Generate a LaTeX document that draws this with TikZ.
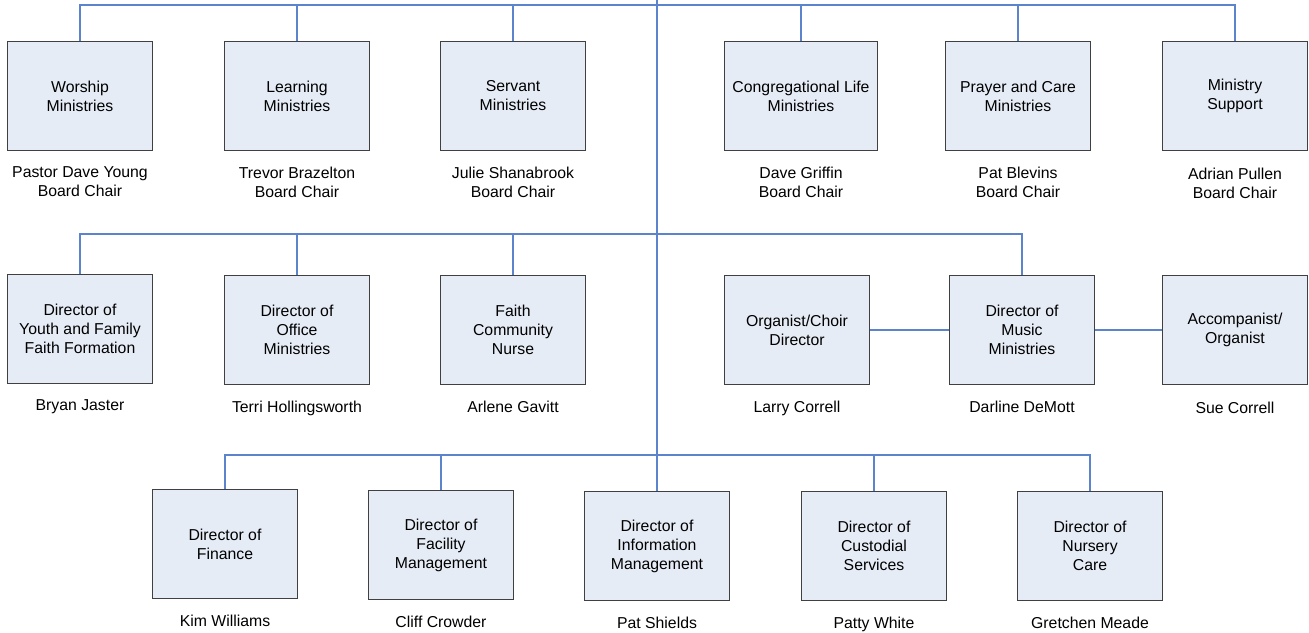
\documentclass[tikz,border=0pt]{standalone}
\usepackage{fontspec}
\setmainfont{Liberation Sans}
\usetikzlibrary{positioning}
\definecolor{boxfill}{RGB}{230,236,246}
\definecolor{boxline}{RGB}{64,64,64}
\definecolor{linkblue}{RGB}{92,132,204}

\begin{document}
\begin{tikzpicture}[x=1pt,y=-1pt]
\tikzstyle{every node}=[font=\fontsize{15.8}{19}\selectfont]
\tikzstyle{unit}=[
	draw=boxline,
	fill=boxfill,
	line width=1.2pt,
	minimum width=145pt,
	minimum height=109pt,
	inner sep=0pt,
	align=center ]
\tikzstyle{person}=[inner sep=0pt, align=center, node distance=15.5pt]
\tikzstyle{conn}=[draw=linkblue, line width=1.1pt]
\useasboundingbox (0,0) rectangle (1309,632);

% boards
\node[unit] (wm) at (80,96) {Worship\\Ministries};
\node[unit] (lm) at (297,96) {Learning\\Ministries};
\node[unit] (sm) at (513,96) {Servant\\Ministries};
\node[unit, minimum width=153pt] (cl) at (801,96) {Congregational Life\\Ministries};
\node[unit] (pc) at (1018,96) {Prayer and Care\\Ministries};
\node[unit] (ms) at (1235,96) {Ministry\\Support};
\node[person, below=of wm] (wmn) {Pastor Dave Young\\Board Chair};
\node[person, below=of lm] (lmn) {Trevor Brazelton\\Board Chair};
\node[person, below=of sm] (smn) {Julie Shanabrook\\Board Chair};
\node[person, below=of cl] (cln) {Dave Griffin\\Board Chair};
\node[person, below=of pc] (pcn) {Pat Blevins\\Board Chair};
\node[person, below=17pt of ms] (msn) {Adrian Pullen\\Board Chair};

% staff
\node[unit] (yf) at (80,329) {Director of\\Youth and Family\\Faith Formation};
\node[unit] (om) at (297,330) {Director of\\Office\\Ministries};
\node[unit] (fn) at (513,330) {Faith\\Community\\Nurse};
\node[unit] (oc) at (797,330) {Organist/Choir\\Director};
\node[unit] (mu) at (1022,330) {Director of\\Music\\Ministries};
\node[unit] (ac) at (1235,330) {Accompanist/\\Organist};
\node[person, below=of yf] (yfn) {Bryan Jaster};
\node[person, below=of om] (omn) {Terri Hollingsworth};
\node[person, below=of fn] (fnn) {Arlene Gavitt};
\node[person, below=of oc] (ocn) {Larry Correll};
\node[person, below=of mu] (mun) {Darline DeMott};
\node[person, below=17pt of ac] (acn) {Sue Correll};

% directors
\node[unit] (fi) at (225,544) {Director of\\Finance};
\node[unit] (fm) at (441,545) {Director of\\Facility\\Management};
\node[unit] (im) at (657,546) {Director of\\Information\\Management};
\node[unit] (cs) at (874,546) {Director of\\Custodial\\Services};
\node[unit] (nc) at (1090,546) {Director of\\Nursery\\Care};
\node[person, below=of fi] (fin) {Kim Williams};
\node[person, below=of fm] (fmn) {Cliff Crowder};
\node[person, below=of im] (imn) {Pat Shields};
\node[person, below=of cs] (csn) {Patty White};
\node[person, below=of nc] (ncn) {Gretchen Meade};

% connectors
\coordinate (root) at (657,0);
\coordinate (bus1) at (657,5);
\coordinate (bus2) at (657,234);
\coordinate (bus3) at (657,455);
\draw[conn] (root) -- (im.north);
\draw[conn] (wm.north) |- (bus1) -| (ms.north);
\draw[conn] (lm.north) -- (lm.north |- bus1);
\draw[conn] (sm.north) -- (sm.north |- bus1);
\draw[conn] (cl.north) -- (cl.north |- bus1);
\draw[conn] (pc.north) -- (pc.north |- bus1);
\draw[conn] (yf.north) |- (bus2) -| (mu.north);
\draw[conn] (om.north) -- (om.north |- bus2);
\draw[conn] (fn.north) -- (fn.north |- bus2);
\draw[conn] (oc.east) -- (mu.west);
\draw[conn] (mu.east) -- (ac.west);
\draw[conn] (fi.north) |- (bus3) -| (nc.north);
\draw[conn] (fm.north) -- (fm.north |- bus3);
\draw[conn] (cs.north) -- (cs.north |- bus3);
\end{tikzpicture}
\end{document}
